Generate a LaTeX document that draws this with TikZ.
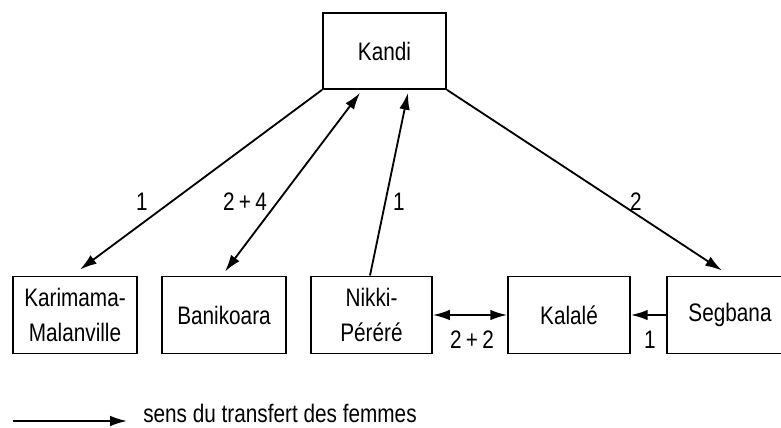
\documentclass[tikz,border=0pt]{standalone}
\usepackage{fontspec}
\setmainfont[FakeStretch=0.82]{Liberation Sans}
\usetikzlibrary{arrows.meta,positioning,calc}

\begin{document}
\begin{tikzpicture}[x=0.025cm,y=-0.025cm,
    every node/.style={font=\fontsize{18}{25}\selectfont},
    place/.style={draw,line width=1.2pt,minimum height=1.93cm,align=center,inner sep=0pt},
    flow/.style={line width=1.3pt,-{Latex[length=12pt,width=7.5pt]}},
    twoway/.style={line width=1.3pt,{Latex[length=12pt,width=7.5pt]}-{Latex[length=12pt,width=7.5pt]}}]
        \clip (0,0) rectangle (781,427);

        % Draw the boxes
        \node[place,minimum width=3.08cm,minimum height=1.9cm] (kandi) at (384.5,51) {Kandi};
        \node[place,minimum width=3.1cm] (karimama) at (75,315) {Karimama-\\Malanville};
        \node[place,minimum width=3.1cm] (banikoara) at (224,315) {Banikoara};
        \node[place,minimum width=3.03cm] (nikki) at (371.5,315) {Nikki-\\Péréré};
        \node[place,minimum width=3.05cm] (kalale) at (569,315) {Kalalé};
        \node[place,minimum width=3.15cm] (segbana) at (730,315) {Segbana};

        % Arrows
        \draw[flow] (kandi.south west) -- ($(karimama.north)+(5,-6)$);
        \draw[twoway] ($(banikoara.north)+(1,-4)$) -- ($(kandi.south)+(-24.5,3)$);
        \draw[flow] ($(nikki.north)+(-1.5,0)$) -- ($(kandi.south)+(23.5,3)$);
        \draw[flow] (kandi.south east) -- ($(segbana.north)+(-8,-5)$);
        \draw[twoway] (nikki.east) -- (kalale.west);
        \draw[flow] (segbana.west) -- (kalale.east);

        % Labels
        \node (lab1) at (142,202) {1};
        \node (lab24) at (245,202) {2\,+\,4};
        \node (lab1b) at (399,202) {1};
        \node (lab2) at (636,202) {2};
        \node (lab22) at (472,340) {2\,+\,2};
        \node (lab1c) at (650,340) {1};

        % Legend
        \coordinate (legA) at (13,421);
        \coordinate (legB) at (127,421);
        \draw[flow] (legA) -- (legB);
        \node[anchor=base west,inner sep=0pt] (legend) at (143,422) {sens du transfert des femmes};

    \end{tikzpicture}
\end{document}
